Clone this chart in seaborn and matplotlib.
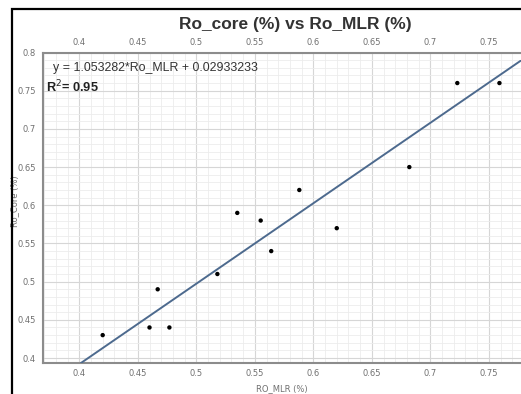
import numpy as np
import pandas as pd
import matplotlib
matplotlib.use("Agg")
import matplotlib.pyplot as plt
from matplotlib.patches import Rectangle
from matplotlib.ticker import MultipleLocator
import seaborn as sns

# data
ro_mlr = [0.42, 0.46, 0.467, 0.477, 0.518, 0.535, 0.555, 0.564, 0.588, 0.62, 0.682, 0.723, 0.759]
ro_core = [0.43, 0.44, 0.49, 0.44, 0.51, 0.59, 0.58, 0.54, 0.62, 0.57, 0.65, 0.76, 0.76]
line_slope = 1.053282
line_intercept = -0.02933233
eq_text = "y = 1.053282*Ro_MLR + 0.02933233"
r2_text = "R$^2$= 0.95"
x_ticks = [0.4, 0.45, 0.5, 0.55, 0.6, 0.65, 0.7, 0.75]
y_ticks = [0.4, 0.45, 0.5, 0.55, 0.6, 0.65, 0.7, 0.75, 0.8]

df = pd.DataFrame({"RO_MLR": ro_mlr, "Ro_Core": ro_core})

sns.set_style("white")
plt.rcParams["font.family"] = ["DejaVu Sans"]

W, H = 521, 394
fig = plt.figure(figsize=(W / 100, H / 100), dpi=100)
ax = fig.add_axes([43 / W, 1 - 363 / H, (520.5 - 43) / W, (363 - 52.5) / H])

# outer frame
fig.patches.append(Rectangle((12 / W, -0.2), 1.2, 1.2 - 8.5 / H, transform=fig.transFigure,
                             fill=False, edgecolor="black", linewidth=1.6))

ax.set_xlim(0.369, 0.777)
ax.set_ylim(0.3935, 0.8)
ax.xaxis.set_minor_locator(MultipleLocator(0.01))
ax.yaxis.set_minor_locator(MultipleLocator(0.01))
ax.set_xticks(x_ticks)
ax.set_yticks(y_ticks)
ax.set_xticklabels([f"{t:g}" for t in x_ticks])
ax.set_yticklabels([f"{t:g}" for t in y_ticks])
ax.grid(which="major", color="#d6d6d6", linewidth=0.8)
ax.grid(which="minor", color="#ececec", linewidth=0.6)
ax.set_axisbelow(True)

ax.axline((0, line_intercept), slope=line_slope, color="#4d6a8e", linewidth=1.4, zorder=3)
sns.scatterplot(data=df, x="RO_MLR", y="Ro_Core", ax=ax, color="black", s=10,
                edgecolor="none", zorder=4)

ax.tick_params(which="both", length=0, labelsize=6, labelcolor="#707070", pad=5)
ax.tick_params(axis="x", top=True, labeltop=True, pad=4)
for sp in ["left", "bottom", "top"]:
    ax.spines[sp].set_color("#8c8c8c")
    ax.spines[sp].set_linewidth(1.5)
ax.spines["right"].set_visible(False)

ax.set_xlabel("RO_MLR (%)", fontsize=6, color="#707070", labelpad=5)
ax.set_ylabel("Ro_Core (%)", fontsize=6, color="#707070")
ax.yaxis.set_label_coords(-0.05, 0.52)

fig.text(295 / W, 1 - 25 / H, "Ro_core (%) vs Ro_MLR (%)", fontsize=12.5, fontweight="bold",
         family="Liberation Sans", color="#333333", ha="center", va="center")
fig.text(53 / W, 1 - 68 / H, eq_text, fontsize=8.9, family="Liberation Sans",
         color="#333333", ha="left", va="center")
fig.text(46 / W, 1 - 87 / H, r2_text, fontsize=9.2, fontweight="bold", family="Liberation Sans",
         color="#222222", ha="left", va="center")

fig.savefig("out.png", dpi=100)
